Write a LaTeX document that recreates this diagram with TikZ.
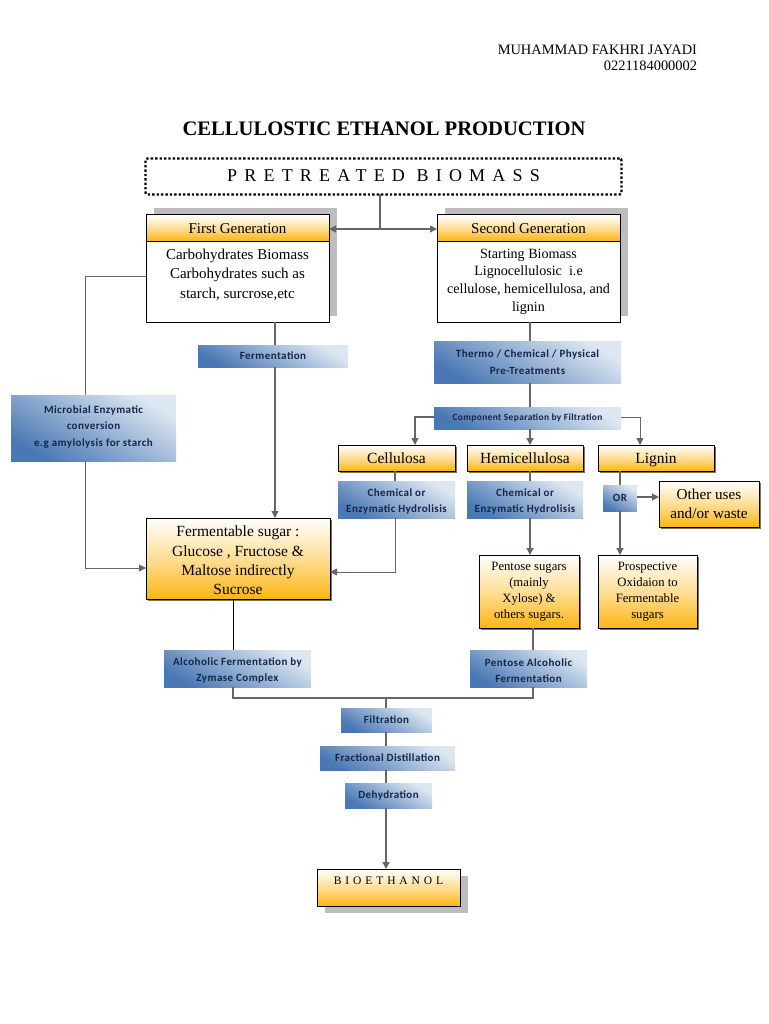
\documentclass[tikz,border=0pt]{standalone}
\usepackage{fontspec}
\setmainfont{Liberation Serif}
\newfontfamily\labfont{Carlito}[LetterSpace=4]
\usetikzlibrary{arrows.meta,shadows}
\definecolor{lineg}{HTML}{666666}
\definecolor{shadeg}{HTML}{BDBDBD}
\definecolor{bluedk}{HTML}{4A78B4}
\definecolor{bluelt}{HTML}{DDE7F2}
\definecolor{orng}{HTML}{FDB515}
\definecolor{navy}{HTML}{14264A}
\newcommand{\topup}[1]{\rule{0pt}{#1}}
\newcommand{\pad}[1]{\rule[-#1]{0pt}{#1}}
\newcommand{\bodyfs}{\fontsize{15}{19.5}\selectfont}
\tikzset{
  every node/.style={outer sep=0pt,inner sep=0pt,align=center},
  plainbox/.style={draw=black,line width=1pt,fill=white},
  orangebox/.style={draw=black,line width=1pt,top color=white,bottom color=orng,middle color=orng!45!white},
  headbox/.style={orangebox,text height=13pt,text depth=2pt},
  thinshadow/.style={general shadow={fill=black!55,shadow xshift=2pt,shadow yshift=-2pt}},
  upshadow/.style={general shadow={fill=shadeg,shadow xshift=7.5pt,shadow yshift=6.5pt}},
  downshadow/.style={general shadow={fill=shadeg,shadow xshift=8pt,shadow yshift=-7pt}},
  bluebox/.style={left color=bluedk,right color=bluelt,shading angle=150,text=navy,font=\labfont\bfseries\fontsize{11}{16.5}\selectfont},
  conn/.style={draw=lineg,line width=1.2pt},
  arr/.style={conn,-{Triangle[length=7pt,width=7pt]}},
}
\begin{document}
\begin{tikzpicture}[x=1pt,y=-1pt]
  \useasboundingbox (0,0) rectangle (768,1024);

  % header
  \node[anchor=east,align=right,font=\fontsize{14.4}{16.5}\selectfont] (author) at (697,58) {MUHAMMAD FAKHRI JAYADI\\0221184000002};
  \node[font=\bfseries\fontsize{20.6}{24}\selectfont] (title) at (384,129) {CELLULOSTIC ETHANOL PRODUCTION};
  \node[draw=black,line width=2.4pt,dash pattern=on 2.4pt off 2pt,rounded corners=2pt,minimum width=476,minimum height=36,font=\addfontfeature{LetterSpace=40}\fontsize{18}{22}\selectfont,text height=14pt,text depth=3pt] (pb) at (383.5,176.5) {PRETREATED BIOMASS};

  % generations
  \node[plainbox,upshadow,minimum width=183,minimum height=107] (fb) at (237.5,268.5) {};
  \node[headbox,minimum width=183,minimum height=26,font=\bodyfs] (fh) at (237.5,228) {First Generation};
  \node[font=\bodyfs,anchor=north] (ft) at (237.5,249) {Carbohydrates Biomass\\Carbohydrates such as\\starch, surcrose,etc};
  \node[plainbox,upshadow,minimum width=183,minimum height=107] (sb) at (528.5,268.5) {};
  \node[headbox,minimum width=183,minimum height=26,font=\bodyfs] (sh) at (528.5,228) {Second Generation};
  \node[font=\fontsize{14.1}{17.6}\selectfont,anchor=north] (st) at (528.5,249) {Starting Biomass\\Lignocellulosic\ \ i.e\\cellulose, hemicellulosa, and\\lignin};

  % left side
  \node[bluebox,minimum width=150,minimum height=22] (ferm) at (273,356) {Fermentation};
  \node[bluebox,minimum width=165,minimum height=66] (micro) at (93.5,428) {Microbial Enzymatic\\conversion\\e.g amylolysis for starch\pad{4pt}};
  \node[orangebox,thinshadow,minimum width=184,minimum height=81,font=\fontsize{15.5}{19.3}\selectfont] (fs) at (238,558.5) {\topup{15pt}Fermentable sugar :\\Glucose , Fructose \&\\Maltose indirectly\\Sucrose};

  % second generation branch
  \node[bluebox,minimum width=187,minimum height=42] (thermo) at (527.5,362) {Thermo / Chemical / Physical\\Pre-Treatments};
  \node[bluebox,minimum width=187,minimum height=22,font=\labfont\bfseries\fontsize{9.4}{11}\selectfont] (comp) at (527.5,418) {Component Separation by Filtration};
  \node[headbox,thinshadow,minimum width=117,minimum height=26,font=\fontsize{15.5}{18}\selectfont] (cell) at (396.5,458) {Cellulosa};
  \node[headbox,thinshadow,minimum width=116,minimum height=26,font=\fontsize{15.5}{18}\selectfont] (hemi) at (525,458) {Hemicellulosa};
  \node[headbox,thinshadow,minimum width=116,minimum height=26,font=\fontsize{15.5}{18}\selectfont] (lig) at (656,458) {Lignin};
  \node[bluebox,minimum width=117,minimum height=37] (chem1) at (396.5,499.5) {\topup{12pt}Chemical or\\Enzymatic Hydrolisis};
  \node[bluebox,minimum width=116,minimum height=37] (chem2) at (525,499.5) {\topup{12pt}Chemical or\\Enzymatic Hydrolisis};
  \node[bluebox,minimum width=34,minimum height=26] (or) at (620,498) {OR};
  \node[orangebox,thinshadow,minimum width=100,minimum height=46,font=\fontsize{15.2}{19.5}\selectfont] (other) at (709,504) {Other uses\\and/or waste};
  \node[orangebox,thinshadow,minimum width=100,minimum height=73,font=\fontsize{12.7}{16}\selectfont] (pent) at (529,591.5) {Pentose sugars\\(mainly\\Xylose) \&\\others sugars.};
  \node[orangebox,thinshadow,minimum width=99,minimum height=73,font=\fontsize{12.7}{16}\selectfont] (pros) at (647.5,591.5) {Prospective\\Oxidaion to\\Fermentable\\sugars};

  % lower part
  \node[bluebox,minimum width=147,minimum height=37] (alc) at (237.5,668.5) {\topup{12pt}Alcoholic Fermentation by\\Zymase Complex};
  \node[bluebox,minimum width=117,minimum height=37] (palc) at (528.5,668.5) {\topup{12pt}Pentose Alcoholic\\Fermentation};
  \node[bluebox,minimum width=91,minimum height=24] (filt) at (386.5,720) {Filtration};
  \node[bluebox,minimum width=135,minimum height=24] (frac) at (387.5,758) {Fractional Distillation};
  \node[bluebox,minimum width=87,minimum height=25] (dehy) at (388.5,795.5) {Dehydration};
  \node[orangebox,downshadow,minimum width=143,minimum height=37,font=\addfontfeature{LetterSpace=34}\fontsize{11.5}{14}\selectfont,text depth=14pt,text height=8pt] (bio) at (388.5,887.5) {BIOETHANOL};

  % guides for connectors that leave a box off centre
  \coordinate (xj) at (380,229);
  \coordinate (xl) at (85,276);
  \coordinate (xf) at (275,0);
  \coordinate (xa) at (233,698);
  \coordinate (xb) at (533,698);
  \coordinate (xm) at (386,698);
  \coordinate (xt) at (530,0);
  \coordinate (xc) at (415,417);
  \coordinate (xg) at (640,417);
  \coordinate (xd) at (395,572);
  \coordinate (xo) at (620,0);
  \coordinate (ym) at (0,568);
  \coordinate (yo) at (0,497);

  % connectors
  \draw[conn] (pb.south -| xj) -- (xj);
  \draw[conn,{Triangle[length=7pt,width=7pt]}-{Triangle[length=7pt,width=7pt]}] (fh.east |- xj) -- (sh.west |- xj);
  \draw[conn,line width=0.9pt] (fb.west |- xl) -- (xl) -- (micro.north -| xl);
  \draw[arr,line width=0.9pt] (micro.south -| xl) -- (xl |- ym) -- (fs.west |- ym);
  \draw[conn] (fb.south -| xf) -- (ferm.north -| xf);
  \draw[arr] (ferm.south -| xf) -- (fs.north -| xf);
  \draw[conn] (sb.south -| xt) -- (thermo.north -| xt);
  \draw[conn] (thermo.south -| xt) -- (comp.north -| xt);
  \draw[arr] (comp.south -| xt) -- (hemi.north -| xt);
  \draw[arr] (comp.west |- xc) -- (xc) -- (cell.north -| xc);
  \draw[arr,line width=0.9pt] (comp.east |- xg) -- (xg) -- (lig.north -| xg);
  \draw[conn] (cell.south -| xd) -- (chem1.north -| xd);
  \draw[arr,line width=0.9pt] (chem1.south -| xd) -- (xd) -- (fs.east |- xd);
  \draw[conn] (hemi.south -| xt) -- (chem2.north -| xt);
  \draw[arr] (chem2.south -| xt) -- (pent.north -| xt);
  \draw[conn] (lig.south -| xo) -- (or.north -| xo);
  \draw[arr] (or.south -| xo) -- (pros.north -| xo);
  \draw[arr] (or.east |- yo) -- (other.west |- yo);
  \draw[conn,draw=black,line width=1pt] (fs.south -| xa) -- (alc.north -| xa);
  \draw[conn] (pent.south -| xb) -- (palc.north -| xb);
  \draw[conn] (alc.south -| xa) -- (xa) -- (xb) -- (palc.south -| xb);
  \draw[conn] (xm) -- (filt.north -| xm);
  \draw[conn] (filt.south -| xm) -- (frac.north -| xm);
  \draw[conn] (frac.south -| xm) -- (dehy.north -| xm);
  \draw[arr] (dehy.south -| xm) -- (bio.north -| xm);
\end{tikzpicture}
\end{document}
